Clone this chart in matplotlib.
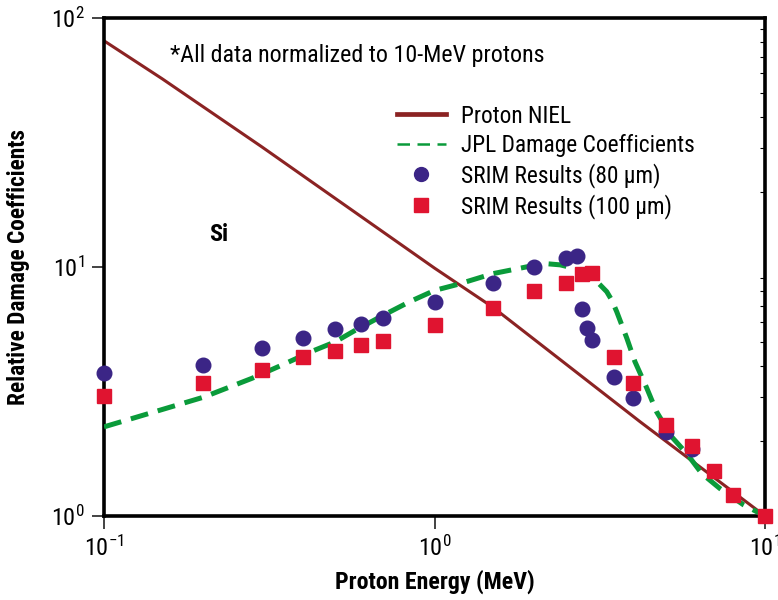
import math
import matplotlib
matplotlib.use("Agg")
import matplotlib.pyplot as plt
from matplotlib.lines import Line2D
from matplotlib.ticker import FixedLocator, FuncFormatter, LogLocator, NullLocator
from matplotlib import font_manager

# ---------------- data ----------------
niel_energy = [0.1, 0.15, 0.3, 1.0, 1.5, 4.19, 10.0]
niel_value = [81.0, 57.0, 30.4, 9.9, 6.9, 2.39, 1.0]

jpl_energy = [0.1, 0.2, 0.28, 0.34, 0.43, 0.5, 0.58, 0.7, 0.84, 1.0, 1.17, 1.5,
              2.0, 2.2, 2.4, 2.6, 2.8, 2.95, 3.15, 3.32, 3.44, 3.56, 3.82, 4.04, 4.39,
              4.7, 5.22, 5.8, 6.44, 7.3, 8.6, 10.0]
jpl_value = [2.28, 3.0, 3.57, 4.0, 4.61, 5.0, 5.6, 6.4, 7.25, 8.05, 8.5, 9.4,
             10.15, 10.3, 10.2, 9.94, 9.55, 9.1, 8.55, 7.96, 7.35, 6.61, 5.17, 4.17, 3.26,
             2.62, 2.08, 1.78, 1.48, 1.29, 1.11, 1.0]

srim80_energy = [0.1, 0.2, 0.3, 0.4, 0.5, 0.6, 0.7, 1.0, 1.5, 2.0, 2.5, 2.7, 2.8,
                 2.9, 3.0, 3.5, 4.0, 5.0, 6.0]
srim80_value = [3.74, 4.03, 4.74, 5.2, 5.62, 5.9, 6.26, 7.26, 8.65, 10.0, 10.9, 11.07,
                6.76, 5.67, 5.09, 3.63, 2.97, 2.18, 1.86]

srim100_energy = [0.1, 0.2, 0.3, 0.4, 0.5, 0.6, 0.7, 1.0, 1.5, 2.0, 2.5, 2.8, 3.0,
                  3.5, 4.0, 5.0, 6.0, 7.0, 8.0, 10.0]
srim100_value = [3.04, 3.43, 3.86, 4.36, 4.61, 4.86, 5.06, 5.85, 6.87, 8.03, 8.65, 9.35,
                 9.49, 4.36, 3.43, 2.32, 1.91, 1.52, 1.21, 1.0]

labels = ["Proton NIEL", "JPL Damage Coefficients",
          "SRIM Results (80 \u03bcm)", "SRIM Results (100 \u03bcm)"]
x_ticks = [0.1, 1.0, 10.0]
y_ticks = [1.0, 10.0, 100.0]

# ---------------- style ----------------
names = {f.name for f in font_manager.fontManager.ttflist}
narrow = None
for cand in ["Liberation Sans Narrow", "Arial Narrow", "Roboto Condensed",
             "Open Sans Condensed", "Noto Sans Condensed"]:
    if cand in names:
        narrow = cand
        break
if narrow:
    plt.rcParams["font.family"] = [narrow, "DejaVu Sans"]
else:
    plt.rcParams["font.family"] = ["DejaVu Sans"]
    plt.rcParams["font.stretch"] = "condensed"
plt.rcParams["mathtext.fontset"] = "custom"
base = narrow if narrow else "DejaVu Sans:stretch=condensed"
plt.rcParams["mathtext.rm"] = base
plt.rcParams["mathtext.it"] = base + (":italic" if narrow else ":style=italic")
plt.rcParams["mathtext.bf"] = base + (":bold" if narrow else ":weight=bold")

c_niel = "#8b2323"
c_jpl = "#0a9b3a"
c_80 = "#3b2586"
c_100 = "#e01430"

fig = plt.figure(figsize=(7.78, 6.0), dpi=100)
ax = fig.add_axes([104 / 778, 84 / 600, 661 / 778, 498 / 600])

ax.plot(niel_energy, niel_value, color=c_niel, lw=2.2, zorder=2)
ax.plot(jpl_energy, jpl_value, color=c_jpl, lw=3.6, dashes=(3.6, 2.0), zorder=3)
ax.plot(srim80_energy, srim80_value, ls="none", marker="o", ms=10.5,
        mfc=c_80, mec=c_80, zorder=4, clip_on=False)
ax.plot(srim100_energy, srim100_value, ls="none", marker="s", ms=10.5,
        mfc=c_100, mec=c_100, zorder=5, clip_on=False)

ax.set_xscale("log")
ax.set_yscale("log")
ax.set_xlim(0.1, 10)
ax.set_ylim(1, 100)

def fmt(v, pos):
    e = int(round(math.log10(v)))
    return "$10^{%d}$" % e if e >= 0 else "$10^{\u2212%d}$" % (-e)

ax.xaxis.set_major_locator(FixedLocator(x_ticks))
ax.yaxis.set_major_locator(FixedLocator(y_ticks))
ax.xaxis.set_major_formatter(FuncFormatter(fmt))
ax.yaxis.set_major_formatter(FuncFormatter(fmt))
ax.xaxis.set_minor_locator(NullLocator())
ax.yaxis.set_minor_locator(LogLocator(base=10, subs=range(2, 10)))

ax.tick_params(axis="both", which="major", direction="out", length=9, width=1.2,
               labelsize=17.5, pad=5, colors="#222222", labelcolor="black")
ax.tick_params(axis="y", which="minor", left=False, right=True, direction="in",
               length=3.5, width=0.8)
ax.tick_params(axis="y", which="major", right=False)

for s in ax.spines.values():
    s.set_linewidth(2.6)
    s.set_color("black")

ax.set_xlabel("Proton Energy (MeV)", fontsize=17.2, fontweight="bold")
ax.set_ylabel("Relative Damage Coefficients", fontsize=16.8, fontweight="bold")
ax.xaxis.set_label_coords(0.5, -0.108)
ax.yaxis.set_label_coords(-0.112, 0.5)

ax.text(0.1, 0.925, "*All data normalized to 10-MeV protons", transform=ax.transAxes,
        fontsize=17.3, va="center", ha="left")
ax.text(0.159, 0.566, "Si", transform=ax.transAxes, fontsize=17.5, fontweight="bold",
        va="center", ha="left")

handles = [
    Line2D([], [], color=c_niel, lw=3.4),
    Line2D([], [], color=c_jpl, lw=1.8, dashes=(5, 3)),
    Line2D([], [], ls="none", marker="o", ms=10, mfc=c_80, mec=c_80),
    Line2D([], [], ls="none", marker="s", ms=10, mfc=c_100, mec=c_100),
]
ax.legend(handles, labels, loc="upper left", bbox_to_anchor=(0.443, 0.826),
          frameon=False, fontsize=16.8, handlelength=2.1, handletextpad=0.65,
          labelspacing=0.26, borderpad=0, borderaxespad=0)

fig.savefig("out.png", dpi=100)
